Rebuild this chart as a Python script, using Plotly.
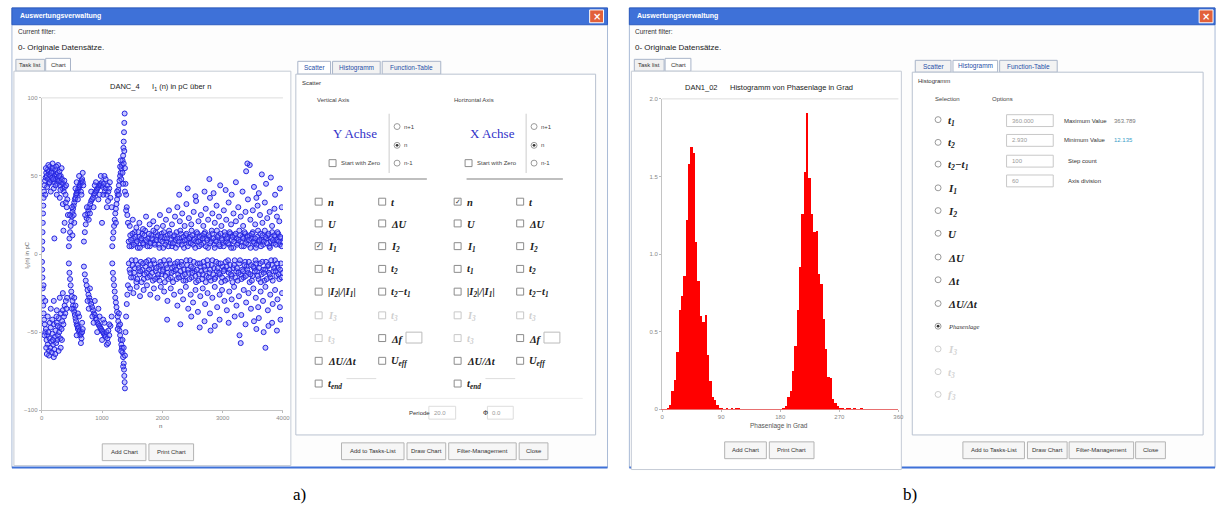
import plotly.graph_objects as go

# ---------------- DATA ----------------
# Scatter (a): I1(n) in pC over n  -- hand-read points (n, I1)
arc1_up = [(5,3),(10,8),(14,14),(18,20),(22,26),(27,31),(32,36),(38,40),(45,44),(55,47),(65,49),(75,52),(85,50),(95,54),(105,48),(115,53),(125,51),(135,56),(145,50),(155,47),(165,53),(175,49),(185,55),(195,52),(205,46),(215,50),(225,54),(235,48),(245,51),(255,45),(265,52),(275,49),(285,47),(295,53),(305,44),(315,50),(325,46),(335,48),(345,42),(355,45),(365,40),(375,47),(385,43),(395,38),(405,44),(415,30),(425,35),(435,25),(150,40),(200,42),(250,38),(300,36),(350,32),(380,20),(120,45),(90,43),(60,38),(330,55),(270,57),(180,58),(110,57),(230,44),(310,41),(400,33),(70,55),(160,52),(240,56),(290,50),(210,10),(360,15),(130,46),(190,48)]
arc1_lo = [(5,-5),(8,-10),(12,-15),(16,-22),(20,-28),(25,-33),(32,-38),(40,-42),(50,-45),(60,-50),(70,-48),(80,-55),(90,-52),(100,-58),(110,-50),(120,-62),(130,-54),(140,-60),(150,-47),(160,-56),(170,-63),(180,-51),(190,-58),(200,-45),(210,-61),(220,-53),(230,-49),(240,-57),(250,-44),(260,-55),(270,-52),(280,-41),(290,-50),(300,-47),(310,-54),(320,-38),(330,-48),(340,-43),(350,-36),(360,-45),(370,-40),(380,-33),(390,-38),(400,-30),(410,-35),(420,-28),(100,-40),(150,-35),(200,-30),(250,-36),(300,-28),(120,-65),(200,-66),(280,-62),(60,-30),(350,-25),(75,-60),(135,-44),(175,-42),(225,-64),(265,-46),(315,-60),(85,-64),(185,-55),(245,-40),(335,-55),(30,-20),(45,-52)]
arc2_up = [(450,5),(460,10),(470,14),(480,18),(490,21),(500,24),(510,27),(520,29),(530,31),(540,33),(550,35),(560,36),(570,38),(580,39),(590,40),(600,41),(610,42),(620,43),(630,44),(640,45),(650,46),(660,47),(670,48),(680,46),(690,44),(500,30),(530,25),(560,42),(600,35),(620,50),(650,40),(680,52),(540,20),(580,46),(660,38),(470,25),(510,12)]
arc2_lo = [(450,-6),(460,-12),(470,-16),(480,-20),(490,-24),(500,-27),(510,-30),(520,-33),(530,-35),(540,-37),(550,-39),(560,-41),(570,-43),(580,-45),(590,-46),(600,-48),(610,-47),(620,-50),(630,-49),(640,-52),(650,-51),(660,-54),(670,-50),(680,-48),(500,-35),(540,-28),(580,-52),(620,-40),(650,-57),(600,-38),(560,-33),(670,-44)]
arc3_up = [(700,8),(715,14),(730,19),(745,23),(760,26),(775,28),(790,30),(805,32),(820,34),(835,35),(850,36),(865,38),(880,39),(895,40),(910,41),(925,42),(940,43),(955,44),(970,45),(985,44),(1000,46),(1015,43),(1030,45),(1045,40),(1060,42),(1075,38),(1090,44),(1105,40),(1120,42),(1140,36),(1160,30),(750,30),(780,22),(820,40),(860,30),(900,46),(940,35),(980,50),(1020,38),(1060,48),(1100,34),(1130,46),(800,26),(880,44),(960,38),(1040,50),(720,25),(1000,20),(1080,30)]
arc3_lo = [(700,-8),(715,-13),(730,-17),(745,-20),(760,-23),(775,-26),(790,-28),(805,-30),(820,-32),(835,-34),(850,-36),(865,-38),(880,-39),(895,-41),(910,-42),(925,-44),(940,-45),(955,-46),(970,-47),(985,-48),(1000,-49),(1015,-50),(1030,-51),(1045,-52),(1060,-53),(1075,-50),(1090,-54),(1105,-49),(1120,-52),(1140,-46),(1160,-40),(760,-30),(800,-22),(840,-40),(880,-30),(920,-50),(960,-40),(1000,-55),(1040,-44),(1080,-58),(1120,-45),(780,-35),(860,-44),(940,-35),(1020,-42),(1100,-57)]
arc4_up = [(1170,5),(1180,10),(1190,14),(1200,18),(1210,22),(1220,26),(1230,29),(1240,32),(1250,35),(1260,38),(1270,41),(1280,44),(1290,47),(1300,50),(1310,52),(1320,55),(1330,57),(1340,60),(1350,63),(1355,68),(1360,72),(1365,78),(1370,84),(1375,90),(1380,55),(1390,45),(1400,38),(1410,30),(1420,25),(1430,20),(1250,40),(1280,38),(1300,56),(1320,48),(1340,52),(1360,58),(1370,66),(1380,40),(1400,28),(1350,45),(1230,20),(1310,60)]
arc4_lo = [(1170,-6),(1180,-12),(1190,-16),(1200,-20),(1210,-24),(1220,-28),(1230,-31),(1240,-34),(1250,-37),(1260,-40),(1270,-43),(1280,-46),(1290,-49),(1300,-52),(1310,-55),(1320,-58),(1330,-60),(1340,-63),(1350,-66),(1360,-70),(1365,-74),(1370,-78),(1375,-82),(1380,-86),(1390,-50),(1400,-40),(1410,-32),(1420,-26),(1430,-20),(1260,-48),(1300,-45),(1320,-62),(1340,-55),(1360,-60),(1280,-38),(1350,-72),(1380,-65)]
band_up = [(1442,8),(1468,12),(1490,5),(1517,10),(1541,14),(1566,7),(1593,4),(1615,11),(1640,9),(1668,13),
           (1690,6),(1714,15),(1742,8),(1765,10),(1791,5),(1816,12),(1838,9),(1866,7),(1889,14),(1913,11),
           (1940,6),(1964,9),(1988,13),(2015,4),(2037,10),(2063,8),(2089,12),(2112,15),(2138,7),(2160,5),
           (2187,11),(2213,9),(2236,14),(2262,6),(2285,10),(2311,13),(2336,8),(2360,4),(2387,12),(2410,9),
           (2434,7),(2461,11),(2485,15),(2510,6),(2534,10),(2558,8),(2585,13),(2609,5),(2633,9),(2660,12),
           (2684,7),(2707,14),(2733,10),(2758,4),(2782,11),(2808,8),(2831,13),(2856,6),(2882,9),(2905,15),
           (2930,12),(2957,5),(2980,10),(3004,7),(3031,14),(3055,8),(3079,11),(3106,6),(3128,13),(3153,9),
           (3180,4),(3203,12),(3228,10),(3254,7),(3277,15),(3302,8),(3329,11),(3351,5),(3376,13),(3402,9),
           (3425,6),(3450,12),(3477,10),(3500,14),(3524,7),(3551,4),(3574,11),(3599,8),(3625,13),(3648,9),
           (3673,6),(3700,15),(3722,10),(3747,12),(3774,5),(3797,8),(3821,14),(3848,7),(3871,11),(3896,9),
           (3922,13),(3945,6),(3970,10),(3992,8)]
band_up2 = [(1455,5),(1480,9),(1504,13),(1529,6),(1553,11),(1580,8),(1604,14),(1628,4),(1654,10),(1679,7),
            (1702,12),(1728,9),(1753,5),(1778,13),(1803,7),(1827,10),(1852,15),(1877,6),(1901,9),(1927,12),
            (1952,4),(1976,11),(2001,8),(2026,14),(2050,6),(2076,10),(2100,5),(2125,13),(2149,9),(2174,7),
            (2200,12),(2224,4),(2249,10),(2273,8),(2298,15),(2323,6),(2348,11),(2373,9),(2398,13),(2422,5),
            (2447,10),(2473,7),(2497,12),(2522,9),(2546,4),(2571,14),(2597,8),(2621,11),(2646,6),(2672,10),
            (2695,13),(2720,5),(2745,9),(2770,12),(2795,7),(2819,15),(2844,10),(2869,4),(2893,8),(2918,11),
            (2943,6),(2968,13),(2992,9),(3017,5),(3043,12),(3067,10),(3092,7),(3117,14),(3141,4),(3166,11),
            (3191,8),(3216,13),(3240,6),(3265,9),(3290,12),(3315,5),(3340,10),(3364,14),(3389,7),(3413,11),
            (3438,9),(3463,4),(3488,13),(3512,8),(3537,10),(3562,6),(3587,15),(3611,9),(3636,5),(3661,12),
            (3686,8),(3710,11),(3735,7),(3760,13),(3785,4),(3809,10),(3834,9),(3859,12),(3884,6),(3908,14),
            (3933,8),(3958,11),(3982,5)]
band_up_mid = [(1460,18),(1510,22),(1570,17),(1620,20),(1680,16),(1730,24),(1790,19),(1850,21),(1910,17),(1960,25),
               (2010,18),(2060,22),(2110,28),(2160,19),(2210,24),(2250,30),(2290,21),(2330,26),(2370,18),(2400,32),
               (2440,23),(2480,19),(2520,27),(2560,34),(2600,21),(2640,25),(2680,18),(2720,29),(2760,22),(2790,36),
               (2830,26),(2870,20),(2900,31),(2940,24),(2980,18),(3020,28),(3060,22),(3100,33),(3140,19),(3180,26),
               (3220,21),(3260,30),(3300,24),(3340,18),(3380,27),(3420,35),(3460,22),(3500,28),(3540,19),(3580,31),
               (3620,25),(3660,20),(3700,33),(3740,23),(3780,27),(3820,18),(3860,29),(3900,24),(3940,21),(3980,30)]
band_up_hi = [(2280,38),(2420,42),(2550,37),(2700,40),(2780,48),(2850,39),(2960,44),(3050,41),(3150,38),(3220,46),
              (3330,40),(3390,53),(3450,57),(3520,43),(3600,39),(3650,51),(3720,45),(3800,49),(3870,38),(3950,42),
              (3560,36),(3410,58)]
band_lo = [(1445,-6),(1470,-12),(1494,-4),(1520,-15),(1545,-9),(1570,-18),(1596,-7),(1620,-13),(1644,-5),(1670,-10),
           (1694,-16),(1718,-8),(1744,-12),(1769,-4),(1794,-14),(1818,-9),(1843,-17),(1868,-6),(1892,-11),(1917,-15),
           (1942,-8),(1967,-5),(1991,-13),(2016,-10),(2041,-18),(2066,-7),(2090,-12),(2115,-4),(2140,-15),(2164,-9),
           (2189,-11),(2214,-6),(2239,-16),(2263,-13),(2288,-8),(2313,-5),(2338,-14),(2362,-10),(2387,-17),(2412,-7),
           (2436,-12),(2461,-4),(2486,-15),(2510,-9),(2535,-11),(2560,-18),(2584,-6),(2609,-13),(2634,-8),(2659,-16),
           (2683,-5),(2708,-10),(2732,-14),(2757,-7),(2782,-12),(2806,-17),(2831,-4),(2856,-9),(2880,-15),(2905,-11),
           (2930,-6),(2954,-13),(2979,-18),(3004,-8),(3028,-10),(3053,-5),(3078,-16),(3102,-12),(3127,-7),(3152,-14),
           (3176,-9),(3201,-4),(3226,-11),(3250,-17),(3275,-6),(3300,-13),(3324,-10),(3349,-15),(3374,-5),(3398,-8),
           (3423,-12),(3448,-18),(3472,-7),(3497,-14),(3522,-9),(3546,-4),(3571,-11),(3596,-16),(3620,-6),(3645,-13),
           (3670,-10),(3694,-17),(3719,-5),(3744,-8),(3768,-12),(3793,-15),(3818,-7),(3842,-11),(3867,-4),(3892,-14),
           (3916,-9),(3941,-16),(3966,-6),(3990,-12)]
band_lo2 = [(1457,-10),(1482,-15),(1507,-7),(1532,-12),(1557,-4),(1583,-16),(1608,-9),(1632,-11),(1657,-18),(1682,-6),
            (1706,-13),(1731,-5),(1756,-15),(1781,-10),(1806,-7),(1830,-12),(1855,-4),(1880,-16),(1904,-9),(1929,-13),
            (1954,-17),(1979,-7),(2004,-11),(2028,-4),(2053,-14),(2078,-9),(2102,-16),(2127,-6),(2152,-12),(2177,-18),
            (2201,-8),(2226,-10),(2251,-5),(2276,-15),(2300,-11),(2325,-7),(2350,-17),(2375,-13),(2399,-4),(2424,-10),
            (2449,-16),(2474,-8),(2498,-12),(2523,-5),(2548,-14),(2572,-10),(2597,-17),(2622,-6),(2646,-11),(2671,-13),
            (2696,-8),(2720,-18),(2745,-4),(2770,-15),(2794,-10),(2819,-7),(2844,-13),(2868,-16),(2893,-5),(2918,-9),
            (2942,-12),(2967,-6),(2992,-15),(3016,-11),(3041,-17),(3066,-8),(3090,-4),(3115,-10),(3140,-13),(3164,-18),
            (3189,-7),(3214,-15),(3238,-9),(3263,-12),(3288,-4),(3312,-16),(3337,-11),(3362,-7),(3386,-14),(3411,-10),
            (3436,-5),(3460,-13),(3485,-17),(3510,-8),(3534,-11),(3559,-6),(3584,-14),(3608,-9),(3633,-18),(3658,-5),
            (3682,-12),(3707,-10),(3732,-16),(3756,-7),(3781,-13),(3806,-4),(3830,-17),(3855,-9),(3880,-11),(3904,-6),
            (3929,-13),(3954,-10),(3978,-15)]
band_lo_mid = [(1465,-22),(1520,-25),(1575,-21),(1630,-27),(1690,-23),(1745,-20),(1800,-26),(1860,-22),(1920,-28),(1975,-21),
               (2030,-24),(2085,-30),(2140,-22),(2195,-26),(2250,-33),(2300,-24),(2345,-29),(2390,-21),(2430,-35),(2470,-26),
               (2510,-31),(2550,-23),(2590,-37),(2630,-27),(2670,-22),(2710,-32),(2750,-25),(2790,-38),(2830,-28),(2870,-21),
               (2910,-34),(2950,-26),(2990,-23),(3030,-30),(3070,-36),(3110,-24),(3150,-29),(3190,-21),(3230,-33),(3270,-27),
               (3310,-39),(3350,-23),(3390,-31),(3430,-25),(3470,-35),(3510,-22),(3550,-28),(3590,-34),(3630,-24),(3670,-30),
               (3710,-21),(3750,-36),(3790,-26),(3830,-32),(3870,-23),(3910,-29),(3950,-34),(3985,-25)]
band_lo_hi = [(2080,-42),(2300,-45),(2480,-40),(2620,-47),(2700,-43),(2800,-49),(2870,-46),(2950,-42),(3100,-44),(3200,-40),
              (3280,-52),(3300,-57),(3380,-45),(3520,-43),(3560,-48),(3600,-41),(3680,-50),(3710,-60),(3760,-46),(3820,-44),
              (3900,-49),(3960,-42)]

scatter_x_ticks = [0, 1000, 2000, 3000, 4000]
scatter_y_ticks = [-100, -50, 0, 50, 100]

# Histogram (b): Phasenlage in Grad, 100 bins of 3.6 degrees
hist_bin_width = 3.6
hist_values = [0, 0, 0.01, 0.03, 0.12, 0.19, 0.37, 0.64, 0.73, 0.86,
               1.22, 1.58, 1.69, 1.65, 1.08, 0.83, 0.60, 0.56, 0.61, 0.35,
               0.18, 0.08, 0.06, 0.03, 0.01, 0.01, 0, 0.01, 0, 0.01,
               0, 0.01, 0.01, 0, 0, 0, 0, 0, 0, 0,
               0, 0, 0, 0, 0, 0, 0, 0, 0, 0,
               0, 0.01, 0.02, 0.08, 0.12, 0.25, 0.41, 0.64, 0.92, 1.26,
               1.53, 1.91, 1.49, 1.26, 1.14, 1.15, 0.87, 0.81, 0.58, 0.39,
               0.21, 0.20, 0.07, 0.04, 0.02, 0.01, 0.01, 0, 0.01, 0.01,
               0, 0.01, 0, 0, 0.01, 0, 0, 0, 0, 0,
               0, 0, 0, 0, 0, 0, 0, 0, 0, 0]
hist_x_ticks = [0, 90, 180, 270, 360]
hist_y_ticks = [0, 0.5, 1.0, 1.5, 2.0]
hist_y_ticktext = ["0", "0.5", "1.0", "1.5", "2.0"]

# ---------------- FIGURE ----------------
W, H = 1227, 519
def px(x): return x / W
def py(y): return 1 - y / H

shapes, ann = [], []
UI = "Liberation Sans"
SERIF = "Liberation Serif"

def rect(x0, y0, x1, y1, fill="rgba(0,0,0,0)", line="#c4c4c4", lw=1):
    shapes.append(dict(type="rect", xref="paper", yref="paper", x0=px(x0), x1=px(x1),
                       y0=py(y1), y1=py(y0), fillcolor=fill, line=dict(color=line, width=lw), layer="below"))

def hline(x0, x1, y, color="#c4c4c4", lw=1):
    shapes.append(dict(type="line", xref="paper", yref="paper", x0=px(x0), x1=px(x1), y0=py(y), y1=py(y),
                       line=dict(color=color, width=lw), layer="below"))

def vline(x, y0, y1, color="#c4c4c4", lw=1):
    shapes.append(dict(type="line", xref="paper", yref="paper", x0=px(x), x1=px(x), y0=py(y0), y1=py(y1),
                       line=dict(color=color, width=lw), layer="below"))

def text(x, y, s, size=7, color="#222", anchor="left", family=UI, angle=0):
    ann.append(dict(x=px(x), y=py(y), xref="paper", yref="paper", text=s, showarrow=False,
                    xanchor=anchor, yanchor="middle", font=dict(size=size, color=color, family=family),
                    textangle=angle))

def button(x0, x1, y0, y1, s):
    rect(x0, y0, x1, y1, fill="#f6f6f6", line="#b4b4b4")
    text((x0 + x1) / 2, (y0 + y1) / 2, s, size=6, color="#333", anchor="center")

def checkbox(x, y, checked=False, grey=False):
    rect(x - 3.5, y - 3.5, x + 3.5, y + 3.5, fill="#ffffff", line="#c8c8c8" if grey else "#8c8c8c")
    if checked:
        text(x, y, "✓", size=7, color="#333", anchor="center", family="DejaVu Sans")

def radio(x, y, selected=False, grey=False):
    shapes.append(dict(type="circle", xref="paper", yref="paper", x0=px(x - 3), x1=px(x + 3),
                       y0=py(y + 3), y1=py(y - 3), fillcolor="#ffffff",
                       line=dict(color="#cfcfcf" if grey else "#9a9a9a", width=1), layer="below"))
    if selected:
        shapes.append(dict(type="circle", xref="paper", yref="paper", x0=px(x - 1.4), x1=px(x + 1.4),
                           y0=py(y + 1.4), y1=py(y - 1.4), fillcolor="#333", line=dict(width=0), layer="below"))

def window(x0, x1, close_x):
    rect(x0, 5, x1, 470, fill="#fdfdfd", line="#a9bad6")
    rect(x0, 5, x1, 22, fill="#3e71d8", line="#2d5cc0")
    text(x0 + 6, 13.5, "<b>Auswertungsverwaltung</b>", size=7, color="#ffffff")
    rect(close_x - 7, 7, close_x + 7, 20, fill="#e2603a", line="#ffffff")
    text(close_x, 13.5, "<b>×</b>", size=10, color="#ffffff", anchor="center", family="DejaVu Sans")
    text(x0 + 4, 29, "Current filter:", size=6.5, color="#333")
    text(x0 + 4, 45, "0- Originale Datensätze.", size=8, color="#222")
    hline(x0, x1, 470, color="#3e71d8", lw=2)

# ===== Window a =====
window(10, 610, 599)
rect(14, 57, 43, 69, fill="#f1f1f1", line="#a8b4c8")
text(28.5, 63, "Task list", size=6, color="#333", anchor="center")
rect(44, 56, 69, 69, fill="#ffffff", line="#a8b4c8")
text(56.5, 63, "Chart", size=6, color="#333", anchor="center")
rect(12, 69, 291, 468, fill="#ffffff", line="#c6ccd6")
text(160, 85, "DANC_4      I<sub>1</sub> (n) in pC über n", size=7.5, color="#222", anchor="center")
text(25, 255, "I<sub>1</sub>(n) in pC", size=6, color="#666", anchor="center", angle=-90)
text(160, 428, "n", size=6, color="#555", anchor="center")
hline(40, 283, 96, color="#dddddd")
button(101, 145, 446, 463, "Add Chart")
button(148, 193, 446, 463, "Print Chart")

# right panel a
rect(298, 59, 331, 72, fill="#ffffff", line="#a8b4c8")
text(314.5, 65.5, "Scatter", size=6.5, color="#1f4fa8", anchor="center")
rect(333, 59, 381, 72, fill="#f3f3f3", line="#a8b4c8")
text(357, 65.5, "Histogramm", size=6.5, color="#1f4fa8", anchor="center")
rect(383, 59, 442, 72, fill="#f3f3f3", line="#a8b4c8")
text(412.5, 65.5, "Function-Table", size=6.5, color="#1f4fa8", anchor="center")
rect(296, 72, 598, 437, fill="#ffffff", line="#b9c2d0")
text(300, 81, "Scatter", size=6, color="#333")
text(315, 98, "Vertical Axis", size=6, color="#444")
text(453, 98, "Horizontal Axis", size=6, color="#444")
for gx, lab in ((356, "Y Achse"), (494, "X Achse")):
    text(gx, 132, lab, size=13, color="#3030c8", anchor="center", family=SERIF)
for gx0 in (330, 467):
    checkbox(gx0 + 3, 162)
    text(gx0 + 9, 162, "Start with Zero", size=6, color="#444")
for gx0 in (390, 528):
    vline(gx0, 112, 172, color="#cccccc")
    radio(gx0 + 8, 125); text(gx0 + 13, 125, "n+1", size=6, color="#444")
    radio(gx0 + 8, 144, selected=True); text(gx0 + 13, 144, "n", size=6, color="#444")
    radio(gx0 + 8, 162); text(gx0 + 13, 162, "n-1", size=6, color="#444")
hline(330, 428, 178, color="#aaaaaa", lw=1.5)
hline(468, 565, 178, color="#aaaaaa", lw=1.5)

rows_y = [201, 223, 246, 269, 292, 316, 339, 362, 385]
grid_labels = [
    ("n", "t"),
    ("U", "ΔU"),
    ("I<sub>1</sub>", "I<sub>2</sub>"),
    ("t<sub>1</sub>", "t<sub>2</sub>"),
    ("|I<sub>2</sub>|/|I<sub>1</sub>|", "t<sub>2</sub>−t<sub>1</sub>"),
    ("I<sub>3</sub>", "t<sub>3</sub>"),
    ("t<sub>3</sub>", "Δf"),
    ("ΔU/Δt", "U<sub>eff</sub>"),
    ("t<sub>end</sub>", None),
]
for side, cols in ((0, (319, 383)), (1, (459, 522))):
    for r, (yy, labs) in enumerate(zip(rows_y, grid_labels)):
        for c, cx in enumerate(cols):
            lab = labs[c]
            if lab is None:
                continue
            grey = (r == 5) or (r == 6 and c == 0)
            checked = (side == 0 and r == 2 and c == 0) or (side == 1 and r == 0 and c == 0)
            checkbox(cx, yy, checked=checked, grey=grey)
            text(cx + 7, yy + 1, "<b><i>" + lab + "</i></b>", size=10.5,
                 color="#cfcfcf" if grey else "#222", family=SERIF)
            if r == 6 and c == 1:
                rect(cx + 24, yy - 6, cx + 40, yy + 5, fill="#ffffff", line="#bbbbbb")
            if r == 8:
                hline(cx + 28, cx + 58, yy - 5, color="#dddddd")
hline(310, 585, 400, color="#eeeeee")
text(408, 415, "Periode", size=6, color="#333")
rect(430, 408, 457, 421, fill="#ffffff", line="#dddddd")
text(433, 415, "20.0", size=6, color="#999")
text(483, 415, "Φ", size=6.5, color="#333", family="DejaVu Sans")
rect(489, 408, 515, 421, fill="#ffffff", line="#dddddd")
text(492, 415, "0.0", size=6, color="#999")
button(342, 405, 445, 462, "Add to Tasks-List")
button(408, 447, 445, 462, "Draw Chart")
button(450, 518, 445, 462, "Filter-Management")
button(521, 550, 445, 462, "Close")

# ===== Window b =====
window(632, 1222, 1213)
rect(637, 57, 667, 69, fill="#f1f1f1", line="#a8b4c8")
text(652, 63, "Task list", size=6, color="#333", anchor="center")
rect(668, 56, 694, 69, fill="#ffffff", line="#a8b4c8")
text(681, 63, "Chart", size=6, color="#333", anchor="center")
rect(634, 69, 906, 472, fill="#ffffff", line="#c6ccd6")
text(773, 85, "DAN1_02      Histogramm von Phasenlage in Grad", size=7.5, color="#222", anchor="center")
text(783, 428, "Phasenlage in Grad", size=6.5, color="#555", anchor="center")
hline(665, 903, 97, color="#dddddd")
button(728, 770, 444, 461, "Add Chart")
button(773, 818, 444, 461, "Print Chart")

rect(920, 58, 956, 70, fill="#f3f3f3", line="#a8b4c8")
text(938, 64, "Scatter", size=6.5, color="#1f4fa8", anchor="center")
rect(958, 58, 1003, 70, fill="#ffffff", line="#a8b4c8")
text(980.5, 64, "Histogramm", size=6.5, color="#1f4fa8", anchor="center")
rect(1005, 58, 1063, 70, fill="#f3f3f3", line="#a8b4c8")
text(1034, 64, "Function-Table", size=6.5, color="#1f4fa8", anchor="center")
rect(917, 70, 1210, 437, fill="#ffffff", line="#b9c2d0")
text(921, 79, "Histogramm", size=6, color="#333")
text(938, 97, "Selection", size=6, color="#444")
text(995, 97, "Options", size=6, color="#444")
sel_y = [118, 141, 163, 187, 210, 233, 257, 280, 304, 327, 350, 373, 396]
sel_labels = ["t<sub>1</sub>", "t<sub>2</sub>", "t<sub>2</sub>−t<sub>1</sub>", "I<sub>1</sub>", "I<sub>2</sub>",
              "U", "ΔU", "Δt", "ΔU/Δt", "Phasenlage", "I<sub>3</sub>", "t<sub>3</sub>", "f<sub>3</sub>"]
for i, (yy, lab) in enumerate(zip(sel_y, sel_labels)):
    grey = i >= 10
    radio(943, yy, selected=(lab == "Phasenlage"), grey=grey)
    if lab == "Phasenlage":
        text(951, yy, "<i>Phasenlage</i>", size=6.5, color="#333", family=SERIF)
    else:
        text(951, yy + 1, "<b><i>" + lab + "</i></b>", size=11,
             color="#d4d4d4" if grey else "#222", family=SERIF)
opt_y = [119, 139, 160, 180]
opt_vals = ["360.000", "2.930", "100", "60"]
opt_labels = ["Maximum Value", "Minimum Value", "Step count", "Axis division"]
for yy, v, lab in zip(opt_y, opt_vals, opt_labels):
    rect(1012, yy - 6, 1059, yy + 6, fill="#ffffff", line="#c8c8c8")
    text(1015, yy, v, size=6, color="#999")
    text(1068 if "Value" in lab else 1072, yy, lab, size=6, color="#333")
text(1118, 119, "363.789", size=6, color="#777")
text(1118, 139, "12.135", size=6, color="#3aa0c8")
button(968, 1030, 444, 461, "Add to Tasks-List")
button(1033, 1073, 444, 461, "Draw Chart")
button(1075, 1140, 444, 461, "Filter-Management")
button(1142, 1172, 444, 461, "Close")

# captions
text(300, 497, "a)", size=17, color="#000", anchor="center", family=SERIF)
text(915, 497, "b)", size=17, color="#000", anchor="center", family=SERIF)

# ---------------- TRACES ----------------
all_pts = (arc1_up + arc1_lo + arc2_up + arc2_lo + arc3_up + arc3_lo + arc4_up + arc4_lo +
           band_up + band_up2 + band_up_mid + band_up_hi + band_lo + band_lo2 + band_lo_mid + band_lo_hi)
sx = [p[0] for p in all_pts]
sy = [p[1] for p in all_pts]

fig = go.Figure()
fig.add_trace(go.Scatter(x=sx, y=sy, mode="markers", xaxis="x", yaxis="y",
                         marker=dict(symbol="circle", size=5, color="rgba(110,110,255,0.4)",
                                     line=dict(width=1, color="#2424e0")),
                         showlegend=False, hoverinfo="skip"))
hist_x = [hist_bin_width * i + hist_bin_width / 2 for i in range(len(hist_values))]
fig.add_trace(go.Bar(x=hist_x, y=hist_values, width=hist_bin_width, xaxis="x2", yaxis="y2",
                     marker=dict(color="#ff0000", line=dict(width=0)), showlegend=False, hoverinfo="skip"))

axis_common = dict(showgrid=False, zeroline=False, showline=True, linecolor="#c4c4c4", linewidth=1,
                   ticks="outside", ticklen=2, tickcolor="#bbbbbb",
                   tickfont=dict(size=6, color="#888", family=UI))

fig.update_layout(
    width=W, height=H, margin=dict(l=0, r=0, t=0, b=0),
    paper_bgcolor="#ffffff", plot_bgcolor="rgba(0,0,0,0)",
    bargap=0,
    xaxis=dict(domain=[px(40), px(283)], range=[0, 4000], tickvals=scatter_x_ticks, anchor="y", **axis_common),
    yaxis=dict(domain=[py(412), py(96)], range=[-100, 100], tickvals=scatter_y_ticks, anchor="x", **axis_common),
    xaxis2=dict(domain=[px(665), px(903)], range=[0, 360], tickvals=hist_x_ticks, anchor="y2",
                **{**axis_common, "linecolor": "#e87070"}),
    yaxis2=dict(domain=[py(411), py(97)], range=[0, 2.0], tickvals=hist_y_ticks, ticktext=hist_y_ticktext,
                anchor="x2", **axis_common),
    shapes=shapes, annotations=ann,
)
fig.write_html("out.html")
